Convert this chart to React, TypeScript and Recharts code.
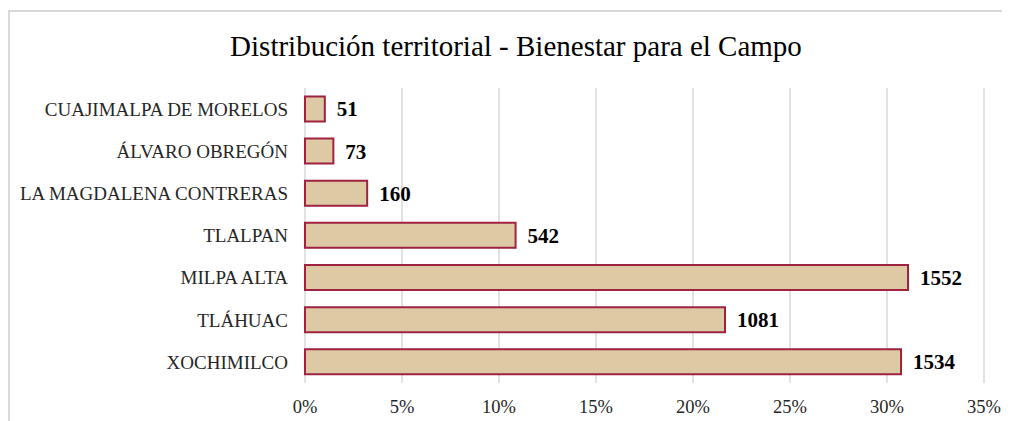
import React from 'react';
import { BarChart, Bar, XAxis, YAxis, CartesianGrid, LabelList } from 'recharts';

const categories = [
  'CUAJIMALPA DE MORELOS',
  'ÁLVARO OBREGÓN',
  'LA MAGDALENA CONTRERAS',
  'TLALPAN',
  'MILPA ALTA',
  'TLÁHUAC',
  'XOCHIMILCO',
];
const counts = [51, 73, 160, 542, 1552, 1081, 1534];
const xTicks = [0, 0.05, 0.1, 0.15, 0.2, 0.25, 0.3, 0.35];

const total = counts.reduce((a, b) => a + b, 0);
const data = categories.map((name, i) => ({ name, count: counts[i], share: counts[i] / total }));

const serif = '"Liberation Serif", "Times New Roman", serif';

export default function App() {
  return (
    <div
      style={{
        position: 'relative',
        width: 1002,
        height: 411,
        marginTop: 2,
        borderTop: '2px solid #d9d9d9',
        borderLeft: '2px solid #d9d9d9',
        background: '#fff',
      }}
    >
      <div
        style={{
          position: 'absolute',
          top: 17,
          left: 0,
          width: 1012,
          textAlign: 'center',
          fontFamily: serif,
          fontSize: 29,
          color: '#000',
          lineHeight: '34px',
        }}
      >
        Distribución territorial - Bienestar para el Campo
      </div>
      <BarChart
        width={1000}
        height={411}
        data={data}
        layout="vertical"
        margin={{ top: 76, right: 26, bottom: 10, left: 0 }}
        barCategoryGap="20%"
      >
        <CartesianGrid horizontal={false} stroke="#d9d9d9" strokeWidth={1.5} />
        <XAxis
          type="number"
          domain={[0, 0.35]}
          ticks={xTicks}
          tickFormatter={(v: number) => `${Math.round(v * 100)}%`}
          axisLine={false}
          tickLine={false}
          tickSize={0}
          tickMargin={17}
          height={30}
          tick={{ fontFamily: serif, fontSize: 18.5, fill: '#262626' }}
        />
        <YAxis
          type="category"
          dataKey="name"
          width={295}
          axisLine={false}
          tickLine={false}
          tickSize={0}
          tickMargin={17}
          interval={0}
          tick={{ fontFamily: serif, fontSize: 19, fill: '#262626' }}
        />
        <Bar
          dataKey="share"
          fill="#ddc9a3"
          stroke="#9f2241"
          strokeWidth={2}
          isAnimationActive={false}
        >
          <LabelList
            dataKey="count"
            position="right"
            offset={12}
            style={{ fontFamily: serif, fontSize: 21, fontWeight: 'bold', fill: '#000' }}
          />
        </Bar>
      </BarChart>
    </div>
  );
}
